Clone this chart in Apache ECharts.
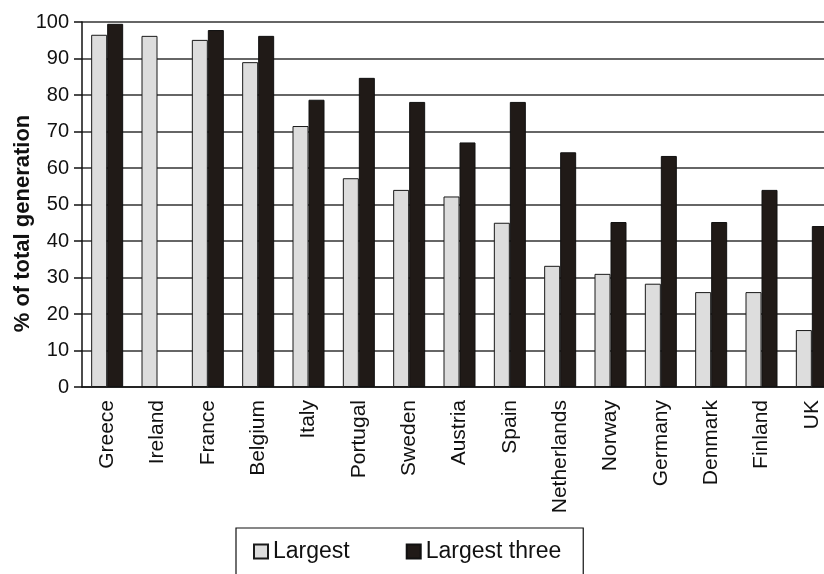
<!DOCTYPE html>
<html>
<head>
<meta charset="utf-8">
<script src="https://cdn.jsdelivr.net/npm/echarts@6/dist/echarts.min.js"></script>
<style>html,body{margin:0;padding:0;background:#fff}#c{width:824px;height:574px}</style>
</head>
<body>
<div id="c"></div>
<script>
const categories = ['Greece','Ireland','France','Belgium','Italy','Portugal','Sweden','Austria','Spain','Netherlands','Norway','Germany','Denmark','Finland','UK'];
const largest = [96.5, 96.2, 95.1, 89, 71.5, 57.2, 54, 52.2, 45, 33.2, 31, 28.3, 26, 26, 15.6];
const largestThree = [99.5, null, 97.8, 96.2, 78.7, 84.7, 78.1, 67, 78.1, 64.3, 45.2, 63.3, 45.2, 54, 44.1];
const yTicks = { min: 0, max: 100, interval: 10 };

const chart = echarts.init(document.getElementById('c'), null, { renderer: 'canvas' });
const font = 'Liberation Sans, Arial, sans-serif';
chart.setOption({
  animation: false,
  textStyle: { fontFamily: font, color: '#111' },
  grid: { left: 82, top: 22, width: 755, height: 365, containLabel: false, outerBoundsMode: 'none' },
  legend: {
    left: 236, top: 528,
    borderColor: '#111', borderWidth: 1.2,
    padding: [12, 22, 30, 17],
    itemWidth: 14, itemHeight: 14, itemGap: 56,
    icon: 'rect',
    textStyle: { fontSize: 23, color: '#111', fontFamily: font },
    data: ['Largest', 'Largest three']
  },
  xAxis: {
    type: 'category',
    data: categories,
    axisLine: { lineStyle: { color: '#111', width: 1.5 } },
    axisTick: { show: false },
    axisLabel: { rotate: 90, fontSize: 21, color: '#111', margin: 13, fontFamily: font, interval: 0 }
  },
  yAxis: {
    type: 'value',
    min: yTicks.min, max: yTicks.max, interval: yTicks.interval,
    name: '% of total generation',
    nameLocation: 'middle',
    nameGap: 48,
    nameMoveOverlap: false,
    nameTextStyle: { fontSize: 22, fontWeight: 'bold', color: '#111', fontFamily: font, padding: [0, 38, 0, 0] },
    axisLine: { show: true, lineStyle: { color: '#111', width: 1.5 } },
    axisTick: { show: true, length: 8, lineStyle: { color: '#111', width: 1.5 } },
    axisLabel: { fontSize: 20, color: '#111', margin: 13, fontFamily: font },
    splitLine: { lineStyle: { color: '#333', width: 1.6 } }
  },
  series: [
    {
      name: 'Largest', type: 'bar', data: largest,
      barWidth: 16, barGap: '0%',
      itemStyle: { color: '#dddddd', borderColor: '#1a1a1a', borderWidth: 1 }
    },
    {
      name: 'Largest three', type: 'bar', data: largestThree,
      barWidth: 16, barGap: '0%',
      itemStyle: { color: '#201a17', borderColor: '#111', borderWidth: 1 }
    }
  ]
});
</script>
</body>
</html>
